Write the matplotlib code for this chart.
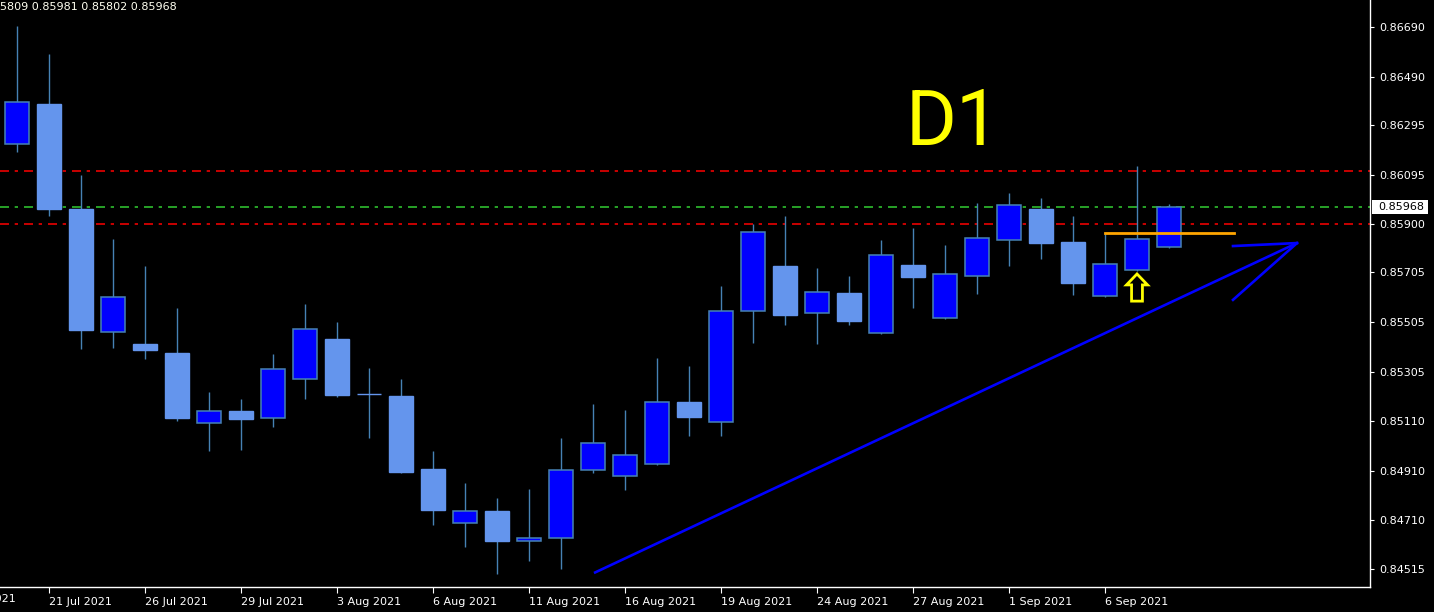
import matplotlib
matplotlib.use('Agg')
import matplotlib.pyplot as plt
from matplotlib.patches import Rectangle, Polygon
import matplotlib.transforms as mtransforms
import numpy as np
import pandas as pd

# ---------------- data ----------------
start_date = '2021-07-20'
opens = [0.86220, 0.86381, 0.85960, 0.85466, 0.85418, 0.85382, 0.85101, 0.85149,
         0.85121, 0.85277, 0.85438, 0.85217, 0.85209, 0.84916, 0.84700, 0.84748,
         0.84627, 0.84639, 0.84912, 0.84888, 0.84936, 0.85185, 0.85105, 0.85550,
         0.85731, 0.85542, 0.85623, 0.85462, 0.85735, 0.85522, 0.85691, 0.85835,
         0.85960, 0.85827, 0.85611, 0.85715, 0.85809]
highs = [0.86694, 0.86582, 0.86096, 0.85839, 0.85731, 0.85562, 0.85225, 0.85197,
         0.85378, 0.85578, 0.85506, 0.85322, 0.85277, 0.84989, 0.84860, 0.84800,
         0.84836, 0.85041, 0.85177, 0.85153, 0.85362, 0.85330, 0.85651, 0.85899,
         0.85932, 0.85723, 0.85691, 0.85835, 0.85883, 0.85815, 0.85984, 0.86024,
         0.86004, 0.85932, 0.85863, 0.86132, 0.85981]
lows = [0.86188, 0.85932, 0.85398, 0.85402, 0.85358, 0.85109, 0.84989, 0.84993,
        0.85085, 0.85197, 0.85205, 0.85041, 0.84900, 0.84692, 0.84603, 0.84495,
        0.84547, 0.84515, 0.84900, 0.84832, 0.84932, 0.85049, 0.85049, 0.85422,
        0.85494, 0.85418, 0.85494, 0.85458, 0.85562, 0.85518, 0.85619, 0.85731,
        0.85759, 0.85615, 0.85607, 0.85711, 0.85802]
closes = [0.86389, 0.85960, 0.85474, 0.85607, 0.85394, 0.85121, 0.85149, 0.85117,
          0.85318, 0.85478, 0.85213, 0.85216, 0.84904, 0.84752, 0.84748, 0.84627,
          0.84639, 0.84912, 0.85021, 0.84972, 0.85185, 0.85125, 0.85550, 0.85867,
          0.85534, 0.85627, 0.85510, 0.85775, 0.85687, 0.85699, 0.85843, 0.85976,
          0.85823, 0.85663, 0.85739, 0.85839, 0.85968]

label_dates = ['2021-07-16', '2021-07-21', '2021-07-26', '2021-07-29', '2021-08-03',
               '2021-08-06', '2021-08-11', '2021-08-16', '2021-08-19', '2021-08-24',
               '2021-08-27', '2021-09-01', '2021-09-06']
price_ticks = [0.86690, 0.86490, 0.86295, 0.86095, 0.85900, 0.85705, 0.85505,
               0.85305, 0.85110, 0.84910, 0.84710, 0.84515]
header_text = '5809 0.85981 0.85802 0.85968'
last_price = 0.85968

# horizontal levels
level_red_top = 0.86112
level_green = 0.85968
level_red = 0.85900
orange_level = 0.85863
orange_x = [34, 38.03]

# hand-drawn trend line and arrow (bar index, price)
trend_x = [18.03, 40.0]
trend_y = [0.84499, 0.85823]
head1_x = [40.0, 38.0]
head1_y = [0.85823, 0.85595]
head2_x = [40.0, 38.0]
head2_y = [0.85823, 0.85811]

# yellow up-arrow marker (bar index, price)
arrow_bar = 35
arrow_tip = 0.85699
arrow_neck = 0.85655
arrow_base = 0.85590

# ---------------- figure ----------------
plt.rcParams['lines.scale_dashes'] = False
W, H = 1434, 612
fig = plt.figure(figsize=(W / 100, H / 100), dpi=100, facecolor='black')
ax = fig.add_axes([0, 25 / H, 1370 / W, 1 - 25 / H])
ax.set_facecolor('black')

n = len(opens)
xs = np.arange(n)
o = np.array(opens); h = np.array(highs); l = np.array(lows); c = np.array(closes)
up = c >= o

wick_col = '#4682B4'
bull_col = '#0000FF'
bear_col = '#6495ED'

# levels (behind candles)
px = 0.72
dash = (0, (9 * px, 5.7 * px, 3.3 * px, 6 * px))
for lev, col in [(level_red_top, '#FF0000'), (level_green, '#32CD32'), (level_red, '#FF0000')]:
    ax.axhline(lev, color=col, lw=1.1, linestyle=dash, zorder=1)

# trend line
ax.plot(trend_x, trend_y, color='#0000FF', lw=1.9, zorder=2, solid_capstyle='butt')
ax.plot(head1_x, head1_y, color='#0000FF', lw=1.9, zorder=2)
ax.plot(head2_x, head2_y, color='#0000FF', lw=1.9, zorder=2)

# candles
ax.vlines(xs, l, h, color=wick_col, lw=1.0, zorder=3)
bw = 0.75
bottoms = np.minimum(o, c)
heights = np.abs(c - o)
ax.bar(xs[up], heights[up], bottom=bottoms[up], width=bw, color=bull_col,
       edgecolor=wick_col, linewidth=1.1, zorder=4)
ax.bar(xs[~up], heights[~up], bottom=bottoms[~up], width=bw, color=bear_col,
       edgecolor=bear_col, linewidth=1.0, zorder=4)

# orange line
ax.plot(orange_x, [orange_level, orange_level], color='#FFA500', lw=2.0, zorder=5)

# yellow arrow
aw, sw = 0.33, 0.17
pts = [(arrow_bar, arrow_tip), (arrow_bar + aw, arrow_neck), (arrow_bar + sw, arrow_neck),
       (arrow_bar + sw, arrow_base), (arrow_bar - sw, arrow_base), (arrow_bar - sw, arrow_neck),
       (arrow_bar - aw, arrow_neck)]
ax.add_patch(Polygon(pts, closed=True, facecolor='none', edgecolor='#FFFF00', lw=2.0, zorder=6))

# limits
ax.set_xlim(-17 / 32, (1370 - 17) / 32)
ax.set_ylim(0.86690 - 560 / 24920, 0.86690 + 27 / 24920)

# axes styling
for s in ['left', 'top']:
    ax.spines[s].set_visible(False)
for s in ['right', 'bottom']:
    ax.spines[s].set_color('white')
    ax.spines[s].set_linewidth(1.0)

ax.yaxis.tick_right()
ax.set_yticks(price_ticks)
ax.set_yticklabels([f'{v:.5f}' for v in price_ticks])
ax.tick_params(axis='y', colors='white', length=3, width=0.8, pad=4, labelsize=8)

pos = np.busday_count(start_date, label_dates)
vis = pos >= ax.get_xlim()[0]
fmt = [pd.Timestamp(d).strftime('%-d %b %Y') for d in label_dates]
ax.set_xticks(pos[vis])
ax.set_xticklabels([f for f, v in zip(fmt, vis) if v], ha='left')
ax.tick_params(axis='x', colors='white', length=4, width=0.8, pad=3, labelsize=8)

# label whose tick lies left of the window (cut off by the edge, as in the original)
trans = mtransforms.blended_transform_factory(ax.transData, ax.transAxes)
off = mtransforms.ScaledTranslation(0, -7 / 100, fig.dpi_scale_trans)
for p, f, v in zip(pos, fmt, vis):
    if not v:
        ax.text(p, 0, f, transform=trans + off, color='white', fontsize=8,
                ha='left', va='top', clip_on=False)

# header
fig.text(0, 1 - 2 / H, header_text, color='#FFFFF0', fontsize=8, ha='left', va='top')

# D1 label
fig.text(906 / W, 1 - 145 / H, 'D1', color='#FFFF00', fontsize=56,
         fontfamily=['Roboto', 'DejaVu Sans'], ha='left', va='baseline')

# current price box
fig.patches.append(Rectangle((1372 / W, 1 - 214 / H), 56 / W, 14 / H, transform=fig.transFigure,
                             facecolor='white', edgecolor='none', zorder=10))
fig.text(1378 / W, 1 - 207 / H, f'{last_price:.5f}', color='black', fontsize=8,
         ha='left', va='center', zorder=11)

fig.savefig('out.png', dpi=100, facecolor='black')
